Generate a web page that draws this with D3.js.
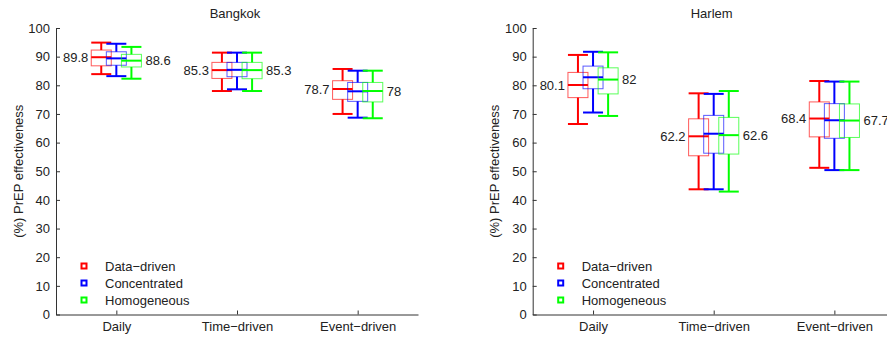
<!DOCTYPE html>
<html>
<head>
<meta charset="utf-8">
<script src="https://cdn.jsdelivr.net/npm/d3@7"></script>
<style>
  body { margin: 0; background: #fff; }
  svg { font-family: "Liberation Sans", Arial, sans-serif; }
</style>
</head>
<body>
<div id="chart"></div>
<script>
// categories / series
var categories = ["Daily", "Time\u2212driven", "Event\u2212driven"];
var seriesNames = ["Data\u2212driven", "Concentrated", "Homogeneous"];
var seriesColors = ["#ff0000", "#0000ff", "#00ff00"];
var yTicks = [0, 10, 20, 30, 40, 50, 60, 70, 80, 90, 100];

// each row: [lower whisker, q1, median, q3, upper whisker] per category
var bangkokDataDriven   = [[83.9, 86.8, 89.8, 92.3, 94.9], [78.0, 82.4, 85.3, 88.0, 91.4], [70.0, 75.1, 78.7, 81.6, 85.7]];
var bangkokConcentrated = [[83.2, 87.0, 89.4, 91.7, 94.5], [78.6, 83.0, 85.4, 88.0, 91.4], [68.7, 74.4, 77.9, 81.0, 85.1]];
var bangkokHomogeneous  = [[82.3, 86.4, 88.6, 90.8, 93.4], [78.0, 82.3, 85.3, 88.0, 91.4], [68.5, 74.2, 78.0, 81.0, 85.1]];

var harlemDataDriven   = [[66.5, 75.7, 80.1, 84.5, 90.6], [43.7, 55.4, 62.2, 68.3, 77.2], [51.2, 62.0, 68.4, 74.2, 81.5]];
var harlemConcentrated = [[70.5, 78.8, 82.8, 86.7, 91.7], [43.7, 56.3, 63.1, 69.5, 77.0], [50.4, 61.5, 67.8, 73.6, 81.3]];
var harlemHomogeneous  = [[69.3, 77.0, 82.0, 86.1, 91.5], [42.9, 56.0, 62.6, 68.8, 78.0], [50.4, 61.8, 67.7, 73.5, 81.3]];

// median annotations: left of the first series, right of the last series
var bangkokLeftLabels  = ["89.8", "85.3", "78.7"];
var bangkokRightLabels = ["88.6", "85.3", "78"];
var harlemLeftLabels   = ["80.1", "62.2", "68.4"];
var harlemRightLabels  = ["82", "62.6", "67.7"];

var W = 887, H = 337;
var svg = d3.select("#chart").append("svg")
  .attr("width", W).attr("height", H)
  .style("background-color", "white");

var axisTop = 28, axisH = 286.5, axisW = 362;
var offsets = [-0.125, 0, 0.125];
var boxW = 20;

function drawPanel(left, title, data, leftLabels, rightLabels) {
  var g = svg.append("g").attr("transform", "translate(" + left + "," + axisTop + ")");

  var x = d3.scaleLinear().domain([0.5, 3.5]).range([0, axisW]);
  var y = d3.scaleLinear().domain([0, 100]).range([axisH, 0]);

  // title
  svg.append("text")
     .attr("x", left + axisW / 2 - 2)
     .attr("y", 18)
     .attr("text-anchor", "middle")
     .attr("font-size", "13px")
     .attr("fill", "#222")
     .text(title);

  // y axis
  var yAxis = g.append("g")
     .call(d3.axisLeft(y).tickValues(yTicks).tickSizeInner(-4).tickSizeOuter(0).tickPadding(6));
  // x axis
  var xAxis = g.append("g")
     .attr("transform", "translate(0," + axisH + ")")
     .call(d3.axisBottom(x).tickValues([1, 2, 3]).tickFormat(function(d) { return categories[d - 1]; })
           .tickSizeInner(-4).tickSizeOuter(0).tickPadding(7));
  [yAxis, xAxis].forEach(function(a) {
    a.select(".domain").attr("stroke", "#333");
    a.selectAll(".tick line").attr("stroke", "#333");
    a.selectAll(".tick text").attr("font-size", "13px").attr("fill", "#222")
     .attr("font-family", "Liberation Sans, Arial, sans-serif");
  });

  // y label
  svg.append("text")
     .attr("transform", "translate(" + (left - 38) + "," + (axisTop + axisH / 2) + ") rotate(-90)")
     .attr("text-anchor", "middle")
     .attr("dy", "0.35em")
     .attr("font-size", "13px")
     .attr("fill", "#222")
     .text("(%) PrEP effectiveness");

  // boxes
  data.forEach(function(series, si) {
    var col = seriesColors[si];
    var sg = g.append("g");
    series.forEach(function(s, ci) {
      var cx = x(ci + 1 + offsets[si]);
      // whiskers
      sg.append("line").attr("x1", cx).attr("x2", cx).attr("y1", y(s[4])).attr("y2", y(s[3]))
        .attr("stroke", col).attr("stroke-width", 2);
      sg.append("line").attr("x1", cx).attr("x2", cx).attr("y1", y(s[1])).attr("y2", y(s[0]))
        .attr("stroke", col).attr("stroke-width", 2);
      // caps
      [s[0], s[4]].forEach(function(v) {
        sg.append("line").attr("x1", cx - boxW / 2).attr("x2", cx + boxW / 2)
          .attr("y1", y(v)).attr("y2", y(v))
          .attr("stroke", col).attr("stroke-width", 2);
      });
      // box
      sg.append("rect")
        .attr("x", cx - boxW / 2).attr("y", y(s[3]))
        .attr("width", boxW).attr("height", y(s[1]) - y(s[3]))
        .attr("fill", "none").attr("stroke", col).attr("stroke-opacity", 0.65).attr("stroke-width", 1);
      // median
      sg.append("line").attr("x1", cx - boxW / 2).attr("x2", cx + boxW / 2)
        .attr("y1", y(s[2])).attr("y2", y(s[2]))
        .attr("stroke", col).attr("stroke-width", 2);
    });
  });

  // median labels
  categories.forEach(function(c, ci) {
    var first = data[0][ci], last = data[2][ci];
    g.append("text")
     .attr("x", x(ci + 1 + offsets[0]) - boxW / 2 - 3)
     .attr("y", y(first[2]))
     .attr("dy", "0.35em")
     .attr("text-anchor", "end")
     .attr("font-size", "13px").attr("fill", "#222")
     .text(leftLabels[ci]);
    g.append("text")
     .attr("x", x(ci + 1 + offsets[2]) + boxW / 2 + 4)
     .attr("y", y(last[2]))
     .attr("dy", "0.35em")
     .attr("text-anchor", "start")
     .attr("font-size", "13px").attr("fill", "#222")
     .text(rightLabels[ci]);
  });

  // legend
  var lg = g.append("g").attr("transform", "translate(28," + (266 - axisTop) + ")");
  seriesNames.forEach(function(name, i) {
    lg.append("rect")
      .attr("x", -2.5).attr("y", i * 17 - 2.5)
      .attr("width", 5).attr("height", 5)
      .attr("fill", "white").attr("stroke", seriesColors[i]).attr("stroke-width", 2);
    lg.append("text")
      .attr("x", 21).attr("y", i * 17)
      .attr("dy", "0.35em")
      .attr("font-size", "13px").attr("fill", "#222")
      .text(name);
  });
}

drawPanel(56, "Bangkok", [bangkokDataDriven, bangkokConcentrated, bangkokHomogeneous],
          bangkokLeftLabels, bangkokRightLabels);
drawPanel(532.7, "Harlem", [harlemDataDriven, harlemConcentrated, harlemHomogeneous],
          harlemLeftLabels, harlemRightLabels);
</script>
</body>
</html>
